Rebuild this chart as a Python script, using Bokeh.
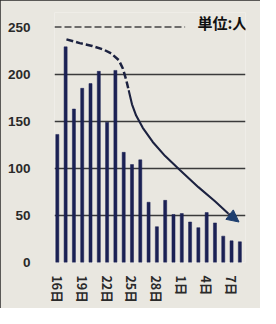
from bokeh.plotting import figure
from bokeh.models import FixedTicker, Range1d, Label, Arrow, NormalHead
from bokeh.embed import file_html
from bokeh.resources import INLINE

# Data
days = ["16日", "17日", "18日", "19日", "20日", "21日", "22日", "23日", "24日", "25日",
        "26日", "27日", "28日", "29日", "30日", "1日", "2日", "3日", "4日", "5日",
        "6日", "7日", "8日"]
counts = [136, 229, 163, 185, 190, 203, 149, 204, 117, 104,
          109, 64, 38, 66, 51, 52, 43, 37, 53, 42,
          28, 23, 22]
tick_idx = [0, 3, 6, 9, 12, 15, 18, 21]
y_ticks = [0, 50, 100, 150, 200, 250]

# hand-drawn trend arrow (x in day index, y in persons)
trend_dash_x = [1.1, 2.7, 4.2, 5.6, 6.5, 7.4, 7.9, 8.3, 8.6]
trend_dash_y = [237, 233, 230, 226, 222, 215, 206, 194, 183]
trend_solid_x = [8.6, 9.0, 9.5, 10.3, 11.5, 13.0, 14.8, 17.0, 19.0, 20.6]
trend_solid_y = [183, 168, 156, 143, 128, 113, 98, 80, 65, 52]
arrow_tip = (21.9, 43)

unit_text = "単位:人"

x = list(range(len(counts)))

p = figure(width=260, height=308, output_backend="svg", toolbar_location=None,
           x_range=Range1d(-0.34, 22.68), y_range=Range1d(0, 265.5),
           min_border_left=54, min_border_right=15, min_border_top=12,
           min_border_bottom=46)
p.background_fill_color = "#e9e7e0"
p.border_fill_color = "#e9e7e0"
p.outline_line_color = None
p.styles = {"outline": "2px solid #2a2a2a", "outline-offset": "-2px"}

# grid
p.xgrid.visible = False
p.ygrid.ticker = FixedTicker(ticks=[0, 50, 100, 150, 200])
p.ygrid.grid_line_color = "#3a3a3a"
p.ygrid.grid_line_width = 1.5

# dashed 250 line
p.segment(x0=[-0.34], y0=[250], x1=[15.4], y1=[250], line_color="#444444",
          line_width=1.5, line_dash="7 3")

# bars
p.vbar(x=x, top=counts, width=0.37, bottom=0, fill_color="#1b2154",
       line_color="#1b2154", line_width=0.5)

# trend
p.line(trend_dash_x, trend_dash_y, line_color="#1c2240", line_width=2.5,
       line_dash="7 3")
p.line(trend_solid_x, trend_solid_y, line_color="#1c2240", line_width=2.1)
p.add_layout(Arrow(end=NormalHead(size=12, fill_color="#1d3e6e", line_color="#1d3e6e"),
                   x_start=trend_solid_x[-1], y_start=trend_solid_y[-1],
                   x_end=arrow_tip[0], y_end=arrow_tip[1],
                   line_color="#1c2240", line_width=2.1))

# unit label
p.add_layout(Label(x=22.9, y=255, text=unit_text, text_align="right",
                   text_baseline="middle", text_font="Noto Sans CJK JP",
                   text_font_style="bold", text_font_size="15px",
                   text_color="#111111"))

# axes
p.yaxis.ticker = FixedTicker(ticks=y_ticks)
p.yaxis.axis_line_color = None
p.yaxis.major_tick_line_color = None
p.yaxis.minor_tick_line_color = None
p.yaxis.major_label_standoff = 18
p.yaxis.major_label_text_font = "Liberation Sans"
p.yaxis.major_label_text_font_style = "bold"
p.yaxis.major_label_text_font_size = "13.5px"
p.yaxis.major_label_text_color = "#2a2a2a"

p.xaxis.ticker = FixedTicker(ticks=tick_idx)
p.xaxis.major_label_overrides = {i: days[i] for i in tick_idx}
p.xaxis.major_label_orientation = "vertical"
p.xaxis.axis_line_color = None
p.xaxis.major_tick_line_color = None
p.xaxis.minor_tick_line_color = None
p.xaxis.major_label_standoff = 7
p.xaxis.major_label_text_font = "Noto Sans CJK JP"
p.xaxis.major_label_text_font_style = "bold"
p.xaxis.major_label_text_font_size = "12.5px"
p.xaxis.major_label_text_color = "#2a2a2a"

open("out.html", "w").write(file_html(p, INLINE))
